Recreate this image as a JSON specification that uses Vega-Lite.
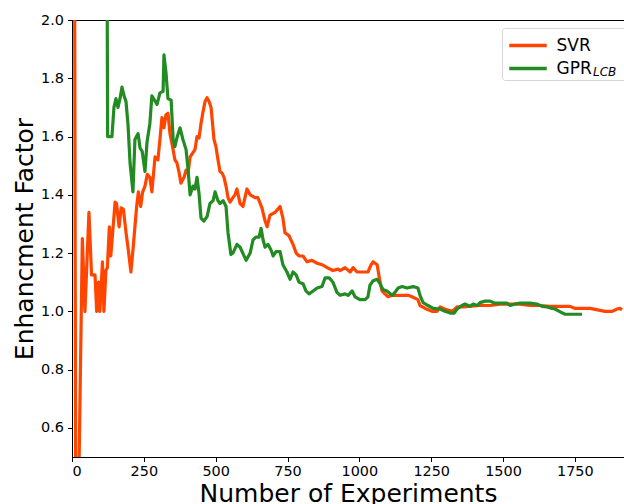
{
  "$schema": "https://vega.github.io/schema/vega-lite/v6.json",
  "width": 552,
  "height": 437,
  "autosize": {"type": "none"},
  "padding": {"left": 72, "top": 20, "right": 0, "bottom": 47},
  "config": {
    "font": "DejaVu Sans",
    "view": {"stroke": "black", "strokeWidth": 1},
    "axis": {
      "grid": false,
      "domainColor": "black",
      "domainWidth": 1,
      "tickColor": "black",
      "tickWidth": 1,
      "tickSize": 4.5,
      "labelColor": "black",
      "labelFontSize": 14.4,
      "labelPadding": 3,
      "titleColor": "black",
      "titleFontSize": 25,
      "titleFontWeight": "normal"
    }
  },
  "datasets": {
    "lines": [
      {"s":"SVR","n":0,"v":3.0},{"s":"SVR","n":9,"v":2.2},{"s":"SVR","n":13,"v":0.3},{"s":"SVR","n":22,"v":0.3},{"s":"SVR","n":36,"v":1.25},{"s":"SVR","n":45,"v":1.0},{"s":"SVR","n":59,"v":1.34},{"s":"SVR","n":68,"v":1.125},{"s":"SVR","n":80,"v":1.125},{"s":"SVR","n":86,"v":1.0},{"s":"SVR","n":92,"v":1.10},{"s":"SVR","n":97,"v":1.0},{"s":"SVR","n":106,"v":1.17},{"s":"SVR","n":111,"v":1.0},{"s":"SVR","n":118,"v":1.14},{"s":"SVR","n":123,"v":1.15},{"s":"SVR","n":130,"v":1.29},{"s":"SVR","n":135,"v":1.19},{"s":"SVR","n":150,"v":1.375},{"s":"SVR","n":155,"v":1.37},{"s":"SVR","n":164,"v":1.29},{"s":"SVR","n":171,"v":1.355},{"s":"SVR","n":179,"v":1.35},{"s":"SVR","n":188,"v":1.27},{"s":"SVR","n":196,"v":1.21},{"s":"SVR","n":205,"v":1.135},{"s":"SVR","n":213,"v":1.22},{"s":"SVR","n":225,"v":1.36},{"s":"SVR","n":231,"v":1.41},{"s":"SVR","n":239,"v":1.36},{"s":"SVR","n":246,"v":1.41},{"s":"SVR","n":254,"v":1.43},{"s":"SVR","n":262,"v":1.47},{"s":"SVR","n":271,"v":1.46},{"s":"SVR","n":278,"v":1.41},{"s":"SVR","n":289,"v":1.53},{"s":"SVR","n":299,"v":1.52},{"s":"SVR","n":306,"v":1.59},{"s":"SVR","n":313,"v":1.665},{"s":"SVR","n":320,"v":1.63},{"s":"SVR","n":327,"v":1.675},{"s":"SVR","n":334,"v":1.68},{"s":"SVR","n":341,"v":1.61},{"s":"SVR","n":352,"v":1.555},{"s":"SVR","n":358,"v":1.52},{"s":"SVR","n":365,"v":1.51},{"s":"SVR","n":372,"v":1.48},{"s":"SVR","n":379,"v":1.44},{"s":"SVR","n":390,"v":1.46},{"s":"SVR","n":397,"v":1.485},{"s":"SVR","n":404,"v":1.475},{"s":"SVR","n":411,"v":1.53},{"s":"SVR","n":421,"v":1.545},{"s":"SVR","n":428,"v":1.555},{"s":"SVR","n":435,"v":1.60},{"s":"SVR","n":442,"v":1.595},{"s":"SVR","n":449,"v":1.645},{"s":"SVR","n":456,"v":1.685},{"s":"SVR","n":463,"v":1.72},{"s":"SVR","n":470,"v":1.733},{"s":"SVR","n":477,"v":1.72},{"s":"SVR","n":484,"v":1.70},{"s":"SVR","n":494,"v":1.59},{"s":"SVR","n":501,"v":1.565},{"s":"SVR","n":508,"v":1.52},{"s":"SVR","n":515,"v":1.48},{"s":"SVR","n":522,"v":1.475},{"s":"SVR","n":529,"v":1.46},{"s":"SVR","n":536,"v":1.43},{"s":"SVR","n":543,"v":1.39},{"s":"SVR","n":550,"v":1.375},{"s":"SVR","n":560,"v":1.39},{"s":"SVR","n":567,"v":1.40},{"s":"SVR","n":574,"v":1.42},{"s":"SVR","n":585,"v":1.37},{"s":"SVR","n":595,"v":1.36},{"s":"SVR","n":609,"v":1.42},{"s":"SVR","n":620,"v":1.40},{"s":"SVR","n":637,"v":1.39},{"s":"SVR","n":647,"v":1.39},{"s":"SVR","n":661,"v":1.355},{"s":"SVR","n":672,"v":1.31},{"s":"SVR","n":679,"v":1.29},{"s":"SVR","n":689,"v":1.33},{"s":"SVR","n":707,"v":1.34},{"s":"SVR","n":724,"v":1.36},{"s":"SVR","n":734,"v":1.32},{"s":"SVR","n":741,"v":1.27},{"s":"SVR","n":755,"v":1.26},{"s":"SVR","n":769,"v":1.23},{"s":"SVR","n":780,"v":1.20},{"s":"SVR","n":790,"v":1.19},{"s":"SVR","n":804,"v":1.19},{"s":"SVR","n":818,"v":1.17},{"s":"SVR","n":835,"v":1.175},{"s":"SVR","n":853,"v":1.165},{"s":"SVR","n":870,"v":1.16},{"s":"SVR","n":888,"v":1.15},{"s":"SVR","n":908,"v":1.14},{"s":"SVR","n":926,"v":1.145},{"s":"SVR","n":933,"v":1.14},{"s":"SVR","n":950,"v":1.15},{"s":"SVR","n":968,"v":1.135},{"s":"SVR","n":978,"v":1.15},{"s":"SVR","n":992,"v":1.135},{"s":"SVR","n":1013,"v":1.135},{"s":"SVR","n":1030,"v":1.135},{"s":"SVR","n":1041,"v":1.16},{"s":"SVR","n":1048,"v":1.17},{"s":"SVR","n":1062,"v":1.16},{"s":"SVR","n":1072,"v":1.10},{"s":"SVR","n":1079,"v":1.07},{"s":"SVR","n":1089,"v":1.06},{"s":"SVR","n":1100,"v":1.05},{"s":"SVR","n":1114,"v":1.055},{"s":"SVR","n":1142,"v":1.055},{"s":"SVR","n":1170,"v":1.055},{"s":"SVR","n":1183,"v":1.05},{"s":"SVR","n":1204,"v":1.04},{"s":"SVR","n":1211,"v":1.02},{"s":"SVR","n":1229,"v":1.01},{"s":"SVR","n":1253,"v":1.0},{"s":"SVR","n":1270,"v":1.0},{"s":"SVR","n":1281,"v":1.015},{"s":"SVR","n":1305,"v":1.005},{"s":"SVR","n":1323,"v":1.0},{"s":"SVR","n":1340,"v":1.015},{"s":"SVR","n":1361,"v":1.015},{"s":"SVR","n":1378,"v":1.017},{"s":"SVR","n":1420,"v":1.02},{"s":"SVR","n":1455,"v":1.02},{"s":"SVR","n":1490,"v":1.025},{"s":"SVR","n":1559,"v":1.025},{"s":"SVR","n":1594,"v":1.02},{"s":"SVR","n":1629,"v":1.02},{"s":"SVR","n":1664,"v":1.017},{"s":"SVR","n":1733,"v":1.017},{"s":"SVR","n":1751,"v":1.01},{"s":"SVR","n":1803,"v":1.01},{"s":"SVR","n":1855,"v":1.0},{"s":"SVR","n":1880,"v":1.0},{"s":"SVR","n":1897,"v":1.008},{"s":"SVR","n":1907,"v":1.01},{"s":"SVR","n":1914,"v":1.005},
      {"s":"GPR_LCB","n":0,"v":3.0},{"s":"GPR_LCB","n":120,"v":2.8},{"s":"GPR_LCB","n":124,"v":1.60},{"s":"GPR_LCB","n":139,"v":1.60},{"s":"GPR_LCB","n":146,"v":1.70},{"s":"GPR_LCB","n":153,"v":1.73},{"s":"GPR_LCB","n":160,"v":1.70},{"s":"GPR_LCB","n":167,"v":1.73},{"s":"GPR_LCB","n":174,"v":1.77},{"s":"GPR_LCB","n":181,"v":1.74},{"s":"GPR_LCB","n":188,"v":1.72},{"s":"GPR_LCB","n":195,"v":1.64},{"s":"GPR_LCB","n":202,"v":1.51},{"s":"GPR_LCB","n":212,"v":1.41},{"s":"GPR_LCB","n":219,"v":1.59},{"s":"GPR_LCB","n":230,"v":1.61},{"s":"GPR_LCB","n":237,"v":1.56},{"s":"GPR_LCB","n":244,"v":1.55},{"s":"GPR_LCB","n":254,"v":1.48},{"s":"GPR_LCB","n":261,"v":1.58},{"s":"GPR_LCB","n":271,"v":1.645},{"s":"GPR_LCB","n":278,"v":1.74},{"s":"GPR_LCB","n":296,"v":1.71},{"s":"GPR_LCB","n":306,"v":1.75},{"s":"GPR_LCB","n":317,"v":1.755},{"s":"GPR_LCB","n":320,"v":1.88},{"s":"GPR_LCB","n":327,"v":1.82},{"s":"GPR_LCB","n":334,"v":1.73},{"s":"GPR_LCB","n":345,"v":1.725},{"s":"GPR_LCB","n":352,"v":1.59},{"s":"GPR_LCB","n":358,"v":1.565},{"s":"GPR_LCB","n":365,"v":1.595},{"s":"GPR_LCB","n":376,"v":1.63},{"s":"GPR_LCB","n":386,"v":1.59},{"s":"GPR_LCB","n":397,"v":1.555},{"s":"GPR_LCB","n":404,"v":1.485},{"s":"GPR_LCB","n":411,"v":1.40},{"s":"GPR_LCB","n":421,"v":1.43},{"s":"GPR_LCB","n":428,"v":1.42},{"s":"GPR_LCB","n":435,"v":1.46},{"s":"GPR_LCB","n":442,"v":1.405},{"s":"GPR_LCB","n":449,"v":1.32},{"s":"GPR_LCB","n":459,"v":1.31},{"s":"GPR_LCB","n":470,"v":1.325},{"s":"GPR_LCB","n":480,"v":1.37},{"s":"GPR_LCB","n":491,"v":1.38},{"s":"GPR_LCB","n":498,"v":1.41},{"s":"GPR_LCB","n":508,"v":1.38},{"s":"GPR_LCB","n":515,"v":1.37},{"s":"GPR_LCB","n":526,"v":1.38},{"s":"GPR_LCB","n":536,"v":1.36},{"s":"GPR_LCB","n":543,"v":1.27},{"s":"GPR_LCB","n":553,"v":1.195},{"s":"GPR_LCB","n":560,"v":1.20},{"s":"GPR_LCB","n":574,"v":1.23},{"s":"GPR_LCB","n":585,"v":1.22},{"s":"GPR_LCB","n":606,"v":1.175},{"s":"GPR_LCB","n":620,"v":1.20},{"s":"GPR_LCB","n":630,"v":1.245},{"s":"GPR_LCB","n":640,"v":1.255},{"s":"GPR_LCB","n":651,"v":1.255},{"s":"GPR_LCB","n":658,"v":1.285},{"s":"GPR_LCB","n":665,"v":1.245},{"s":"GPR_LCB","n":672,"v":1.22},{"s":"GPR_LCB","n":682,"v":1.23},{"s":"GPR_LCB","n":693,"v":1.21},{"s":"GPR_LCB","n":700,"v":1.19},{"s":"GPR_LCB","n":710,"v":1.205},{"s":"GPR_LCB","n":724,"v":1.205},{"s":"GPR_LCB","n":734,"v":1.16},{"s":"GPR_LCB","n":748,"v":1.135},{"s":"GPR_LCB","n":759,"v":1.11},{"s":"GPR_LCB","n":769,"v":1.135},{"s":"GPR_LCB","n":780,"v":1.125},{"s":"GPR_LCB","n":790,"v":1.10},{"s":"GPR_LCB","n":804,"v":1.095},{"s":"GPR_LCB","n":814,"v":1.07},{"s":"GPR_LCB","n":825,"v":1.06},{"s":"GPR_LCB","n":839,"v":1.07},{"s":"GPR_LCB","n":853,"v":1.08},{"s":"GPR_LCB","n":870,"v":1.085},{"s":"GPR_LCB","n":881,"v":1.115},{"s":"GPR_LCB","n":895,"v":1.115},{"s":"GPR_LCB","n":908,"v":1.10},{"s":"GPR_LCB","n":922,"v":1.065},{"s":"GPR_LCB","n":933,"v":1.055},{"s":"GPR_LCB","n":950,"v":1.06},{"s":"GPR_LCB","n":961,"v":1.055},{"s":"GPR_LCB","n":975,"v":1.07},{"s":"GPR_LCB","n":985,"v":1.05},{"s":"GPR_LCB","n":1002,"v":1.04},{"s":"GPR_LCB","n":1020,"v":1.04},{"s":"GPR_LCB","n":1030,"v":1.05},{"s":"GPR_LCB","n":1037,"v":1.09},{"s":"GPR_LCB","n":1048,"v":1.105},{"s":"GPR_LCB","n":1062,"v":1.11},{"s":"GPR_LCB","n":1072,"v":1.095},{"s":"GPR_LCB","n":1082,"v":1.075},{"s":"GPR_LCB","n":1096,"v":1.07},{"s":"GPR_LCB","n":1114,"v":1.055},{"s":"GPR_LCB","n":1124,"v":1.065},{"s":"GPR_LCB","n":1135,"v":1.08},{"s":"GPR_LCB","n":1149,"v":1.085},{"s":"GPR_LCB","n":1166,"v":1.08},{"s":"GPR_LCB","n":1187,"v":1.085},{"s":"GPR_LCB","n":1204,"v":1.08},{"s":"GPR_LCB","n":1211,"v":1.055},{"s":"GPR_LCB","n":1222,"v":1.03},{"s":"GPR_LCB","n":1239,"v":1.02},{"s":"GPR_LCB","n":1257,"v":1.01},{"s":"GPR_LCB","n":1281,"v":1.008},{"s":"GPR_LCB","n":1298,"v":1.0},{"s":"GPR_LCB","n":1316,"v":0.994},{"s":"GPR_LCB","n":1330,"v":0.994},{"s":"GPR_LCB","n":1340,"v":1.008},{"s":"GPR_LCB","n":1357,"v":1.02},{"s":"GPR_LCB","n":1368,"v":1.025},{"s":"GPR_LCB","n":1385,"v":1.017},{"s":"GPR_LCB","n":1396,"v":1.025},{"s":"GPR_LCB","n":1410,"v":1.02},{"s":"GPR_LCB","n":1420,"v":1.03},{"s":"GPR_LCB","n":1438,"v":1.035},{"s":"GPR_LCB","n":1455,"v":1.035},{"s":"GPR_LCB","n":1472,"v":1.028},{"s":"GPR_LCB","n":1514,"v":1.028},{"s":"GPR_LCB","n":1525,"v":1.02},{"s":"GPR_LCB","n":1542,"v":1.025},{"s":"GPR_LCB","n":1559,"v":1.028},{"s":"GPR_LCB","n":1594,"v":1.028},{"s":"GPR_LCB","n":1618,"v":1.025},{"s":"GPR_LCB","n":1636,"v":1.017},{"s":"GPR_LCB","n":1653,"v":1.015},{"s":"GPR_LCB","n":1671,"v":1.01},{"s":"GPR_LCB","n":1681,"v":1.008},{"s":"GPR_LCB","n":1699,"v":0.998},{"s":"GPR_LCB","n":1716,"v":0.99},{"s":"GPR_LCB","n":1751,"v":0.99},{"s":"GPR_LCB","n":1775,"v":0.99}
    ],
    "sub": [{"t": "LCB"}]
  },
  "layer": [
    {
      "mark": {"type": "rule", "color": "#808080", "strokeWidth": 2.5, "strokeDash": [10, 5.5]},
      "encoding": {"y": {"datum": 1.0}}
    },
    {
      "data": {"name": "lines"},
      "mark": {"type": "line", "strokeWidth": 3.2, "clip": true, "strokeJoin": "round"},
      "encoding": {
        "x": {
          "field": "n", "type": "quantitative",
          "scale": {"domain": [0, 1921], "nice": false, "zero": false},
          "axis": {"values": [0, 250, 500, 750, 1000, 1250, 1500, 1750], "format": "d", "title": "Number of Experiments", "titlePadding": 4}
        },
        "y": {
          "field": "v", "type": "quantitative",
          "scale": {"domain": [0.5, 2.0], "nice": false, "zero": false},
          "axis": {"values": [0.6, 0.8, 1.0, 1.2, 1.4, 1.6, 1.8, 2.0], "format": ".1f", "title": "Enhancment Factor", "titlePadding": 3, "labelPadding": 4}
        },
        "color": {
          "field": "s", "type": "nominal",
          "scale": {"domain": ["SVR", "GPR_LCB"], "range": ["#ff4500", "#228b22"]},
          "legend": {
            "orient": "none", "legendX": 430, "legendY": 8,
            "title": null,
            "symbolType": "M-1.5,0H1.5",
            "symbolSize": 625,
            "symbolStrokeWidth": 3.5,
            "labelFontSize": 17,
            "labelColor": "black",
            "padding": 3,
            "rowPadding": 0,
            "symbolOffset": 8.5,
            "labelOffset": 14,
            "strokeColor": "#d6d6d6",
            "cornerRadius": 3,
            "labelExpr": "datum.label == 'GPR_LCB' ? 'GPR\u2800\u2800\u2800' : datum.label"
          }
        }
      }
    },
    {
      "data": {"name": "sub"},
      "mark": {"type": "text", "fontStyle": "italic", "fontSize": 12, "align": "left", "baseline": "alphabetic", "color": "black"},
      "encoding": {"x": {"datum": 1813}, "y": {"datum": 1.809}, "text": {"field": "t", "type": "nominal"}}
    }
  ]
}
